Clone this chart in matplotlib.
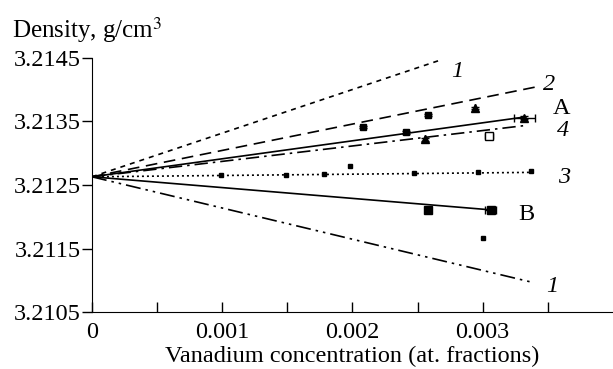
import matplotlib
matplotlib.use('Agg')
import matplotlib.pyplot as plt
import numpy as np

plt.rcParams['font.family'] = ['Liberation Serif', 'DejaVu Serif']
plt.rcParams['mathtext.fontset'] = 'stix'

# fitted lines: all start at the pure crystal density
x0 = 0.0
y0 = 3.21263
line_names = ['1', '2', 'A', '4', '3', 'B', '1']
line_x_end = [0.00268, 0.00340, 0.00332, 0.00334, 0.00340, 0.00306, 0.00338]
line_y_end = [3.21447, 3.21404, 3.21357, 3.21344, 3.21270, 3.21211, 3.21097]

# measured points
sq_x = [0.00208, 0.00241, 0.00258]
sq_y = [3.21341, 3.21333, 3.21360]
tri_x = [0.00256, 0.00294, 0.00332]
tri_y = [3.21322, 3.21371, 3.21356]
tri_xerr = [0.0, 0.0, 0.00008]
open_x = [0.00305]
open_y = [3.21327]
dot_x = [0.00099, 0.00149, 0.00178, 0.00198, 0.00247, 0.00296, 0.00337]
dot_y = [3.21266, 3.21266, 3.21267, 3.21280, 3.21269, 3.21270, 3.21272]
b_x = [0.00258, 0.00306]
b_y = [3.21211, 3.21211]
low_x = [0.00300]
low_y = [3.21167]

styles = [(0, (3, 3)), (0, (7, 4)), '-', (0, (8, 3, 1.5, 3)),
          (0, (1.2, 1.8)), '-', (0, (9, 3, 1.5, 3, 1.5, 3))]
label_dx = [0.00008, 0.00006, 0.00022, 0.00023, 0.00018, 0.00021, 0.00011]
label_dy = [-0.00018, 0.00004, 0.00014, -0.00008, -0.00008, -0.00007, -0.00006]

fig = plt.figure(figsize=(6.13, 3.69), dpi=100)
ax = fig.add_axes([0.150, 0.154, 0.85, 0.689])

for i in range(len(line_names)):
    ax.plot([x0, line_x_end[i]], [y0, line_y_end[i]], color='black',
            lw=1.2, linestyle=styles[i])
    style = 'normal' if line_names[i] in ('A', 'B') else 'italic'
    ax.text(line_x_end[i] + label_dx[i], line_y_end[i] + label_dy[i],
            line_names[i], fontsize=17.5, style=style, ha='left', va='center')

ax.errorbar(sq_x, sq_y, yerr=0.00002, fmt='s', color='black', ms=5,
            capsize=3, elinewidth=1)
ax.errorbar(tri_x, tri_y, xerr=tri_xerr, yerr=0.00002, fmt='^', color='black',
            ms=6, capsize=3, elinewidth=1)
ax.errorbar(open_x, open_y, xerr=0.00003, yerr=0.00003, fmt='s', color='black',
            mfc='white', ms=6, capsize=2, elinewidth=1)
ax.plot(dot_x, dot_y, 's', color='black', ms=3)
ax.errorbar(b_x, b_y, xerr=[0.0, 0.00004], fmt='s', color='black', ms=6,
            capsize=3, elinewidth=1)
ax.plot(low_x, low_y, 's', color='black', ms=2.5)

ax.set_xlim(0, 0.004)
ax.set_ylim(3.2105, 3.2145)
ax.set_xticks([0, 0.001, 0.002, 0.003])
ax.set_xticklabels(['0', '0.001', '0.002', '0.003'])
ax.set_xticks(np.arange(0.0005, 0.004, 0.001), minor=True)
ax.set_yticks([3.2105, 3.2115, 3.2125, 3.2135, 3.2145])
ax.set_yticklabels(['3.2105', '3.2115', '3.2125', '3.2135', '3.2145'])
ax.tick_params(axis='x', which='both', direction='in', length=7, width=1,
               labelsize=17.5, pad=7)
ax.tick_params(axis='y', direction='out', length=7, width=1, labelsize=17.5, pad=1)
ax.spines['top'].set_visible(False)
ax.spines['right'].set_visible(False)
ax.set_xlabel('Vanadium concentration (at. fractions)', fontsize=17.5, labelpad=2)
fig.text(0.02, 0.918, 'Density, g/cm$^3$', fontsize=18, ha='left', va='center')

fig.savefig('out.png', dpi=100)
